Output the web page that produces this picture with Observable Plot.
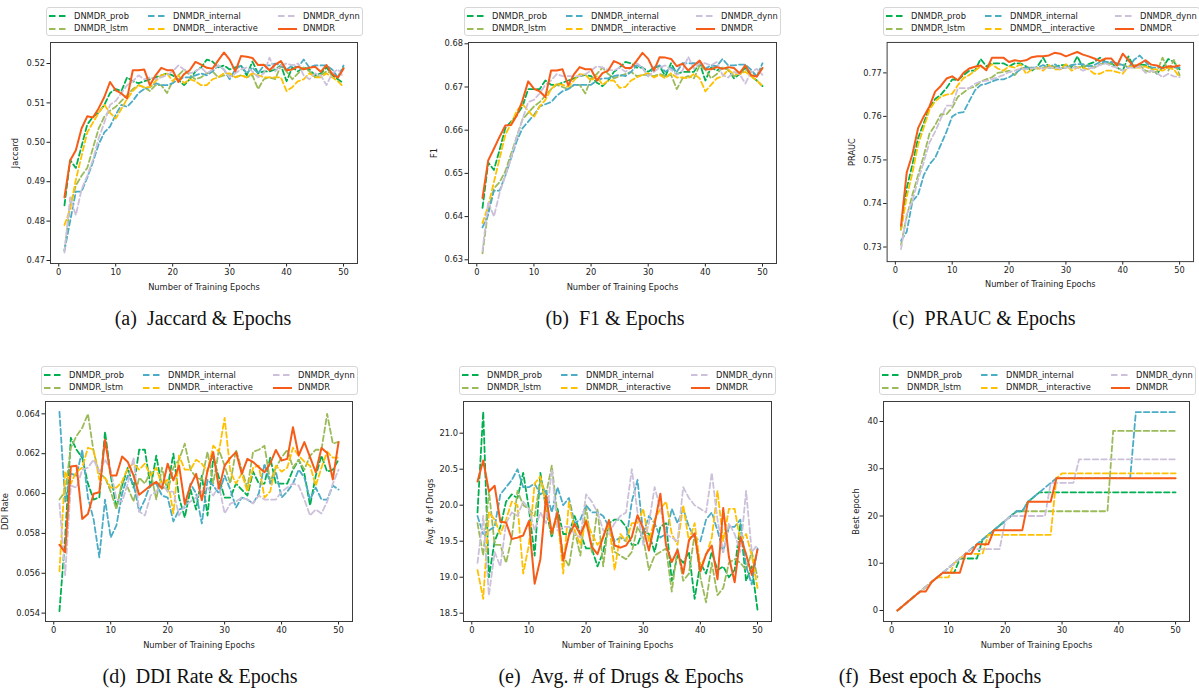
<!DOCTYPE html>
<html><head><meta charset="utf-8">
<script src="https://cdn.jsdelivr.net/npm/d3@7"></script>
<script src="https://cdn.jsdelivr.net/npm/@observablehq/plot@0.6"></script>
<style>
body{margin:0;background:#fff;}
#root{position:relative;width:1199px;height:689px;overflow:hidden;background:#fff;font-family:"DejaVu Sans",sans-serif;}
.leg{position:absolute;border:1px solid #d6d6d6;border-radius:3px;background:#fff;box-sizing:border-box;}
.lh{position:absolute;display:block;}
.lt{position:absolute;font-size:8.3px;line-height:10px;color:#222;white-space:nowrap;}
.cap{position:absolute;font-family:"Liberation Serif","Times New Roman",serif;font-size:20px;color:#111;transform:translate(-50%,-50%);white-space:nowrap;}
.panel{position:absolute;}
</style></head><body><div id="root"></div>
<script>
const epochs = [1,2,3,4,5,6,7,8,9,10,11,12,13,14,15,16,17,18,19,20,21,22,23,24,25,26,27,28,29,30,31,32,33,34,35,36,37,38,39,40,41,42,43,44,45,46,47,48,49,50];
const seriesNames = ["DNMDR_prob","DNMDR_lstm","DNMDR_internal","DNMDR__interactive","DNMDR_dynn","DNMDR"];
const seriesColors = ["#00b050","#9bbb59","#4bacc6","#ffc000","#ccc0da","#f65b17"];

// (a) Jaccard
const jac_prob = [0.484,0.4955,0.4935,0.499,0.5045,0.5065,0.5075,0.5095,0.5125,0.5135,0.513,0.5165,0.5155,0.515,0.5155,0.516,0.5165,0.517,0.5175,0.517,0.5158,0.5145,0.516,0.518,0.519,0.521,0.5205,0.519,0.5195,0.5185,0.519,0.5195,0.517,0.5205,0.5175,0.518,0.518,0.5185,0.5195,0.5155,0.519,0.518,0.519,0.5185,0.517,0.5175,0.519,0.517,0.516,0.515];
const jac_lstm = [0.4725,0.484,0.489,0.4915,0.4935,0.4985,0.5035,0.5065,0.508,0.509,0.5105,0.512,0.5135,0.5145,0.514,0.513,0.5145,0.5145,0.5125,0.5155,0.517,0.5185,0.517,0.516,0.5165,0.5175,0.518,0.5165,0.517,0.517,0.5165,0.517,0.5165,0.517,0.5135,0.516,0.5165,0.516,0.5195,0.518,0.516,0.5175,0.519,0.518,0.5165,0.517,0.518,0.5175,0.5165,0.519];
const jac_internal = [0.4725,0.48,0.4875,0.4875,0.491,0.495,0.4995,0.5025,0.504,0.507,0.5095,0.509,0.5105,0.5125,0.5135,0.514,0.515,0.5145,0.5145,0.515,0.516,0.5165,0.5165,0.517,0.5175,0.517,0.518,0.5195,0.5185,0.516,0.5185,0.5195,0.5175,0.519,0.5175,0.5195,0.5195,0.52,0.5195,0.5185,0.5195,0.519,0.521,0.519,0.5195,0.5195,0.5195,0.5185,0.5165,0.5195];
const jac_interactive = [0.479,0.483,0.4905,0.4965,0.5025,0.505,0.5075,0.5095,0.5075,0.506,0.5085,0.511,0.513,0.5145,0.514,0.514,0.5155,0.517,0.5175,0.5155,0.517,0.515,0.516,0.5155,0.5145,0.5145,0.516,0.5165,0.5175,0.5175,0.5165,0.517,0.5165,0.5175,0.517,0.5165,0.5165,0.5165,0.5165,0.513,0.514,0.5155,0.516,0.5175,0.5165,0.5165,0.5175,0.5165,0.5155,0.514];
const jac_dynn = [0.472,0.486,0.4815,0.488,0.4915,0.4955,0.501,0.505,0.5095,0.5105,0.5125,0.5145,0.5155,0.517,0.516,0.5165,0.516,0.5165,0.517,0.518,0.5195,0.5185,0.5175,0.518,0.519,0.5175,0.5185,0.5195,0.5185,0.5165,0.5175,0.5185,0.519,0.518,0.5165,0.5175,0.5215,0.518,0.5195,0.52,0.5195,0.52,0.517,0.516,0.5175,0.517,0.5145,0.5175,0.5185,0.5165];
const jac_dnmdr = [0.486,0.4954,0.498,0.5035,0.5066,0.5063,0.5086,0.5115,0.5153,0.5132,0.5124,0.5111,0.5183,0.5183,0.5185,0.5145,0.517,0.5189,0.5183,0.5183,0.5153,0.5173,0.5183,0.5204,0.5197,0.5189,0.5187,0.5208,0.5228,0.521,0.518,0.5219,0.5217,0.5214,0.5196,0.5197,0.5183,0.5197,0.5206,0.5183,0.5185,0.5192,0.5185,0.5189,0.5192,0.5179,0.5196,0.5173,0.5164,0.5187];
const jac_ticks = [0.47,0.48,0.49,0.50,0.51,0.52];

// (b) F1
const f1_prob = [0.642,0.6525,0.6508,0.6555,0.6605,0.662,0.6635,0.6655,0.6695,0.6695,0.6695,0.6715,0.6705,0.6705,0.671,0.6715,0.672,0.6725,0.6728,0.6725,0.671,0.6702,0.6715,0.6735,0.6745,0.6758,0.6755,0.6745,0.6745,0.6735,0.6745,0.6748,0.6725,0.6755,0.673,0.6735,0.6735,0.6735,0.6755,0.6715,0.6745,0.6738,0.6745,0.674,0.672,0.673,0.6745,0.6725,0.6715,0.6702];
const f1_lstm = [0.6315,0.6415,0.6465,0.648,0.6505,0.6545,0.6585,0.6625,0.664,0.6655,0.6665,0.668,0.6695,0.6705,0.67,0.6695,0.6705,0.6705,0.6685,0.672,0.673,0.6745,0.673,0.672,0.6725,0.673,0.6735,0.6725,0.6728,0.6728,0.6725,0.673,0.6725,0.6728,0.6695,0.672,0.6725,0.672,0.675,0.674,0.672,0.673,0.6745,0.674,0.6725,0.673,0.674,0.6735,0.6725,0.6745];
const f1_internal = [0.6375,0.6405,0.646,0.646,0.6495,0.6535,0.6575,0.6605,0.662,0.6635,0.6655,0.666,0.6665,0.668,0.669,0.6695,0.6705,0.6705,0.6705,0.6705,0.6715,0.672,0.672,0.6725,0.6728,0.6725,0.6735,0.675,0.6745,0.6725,0.6745,0.675,0.6735,0.6745,0.6735,0.6755,0.6755,0.6755,0.6755,0.6742,0.675,0.6748,0.6765,0.675,0.675,0.6752,0.6752,0.674,0.6725,0.6755];
const f1_interactive = [0.6385,0.6425,0.648,0.6535,0.659,0.6615,0.6645,0.666,0.6645,0.663,0.6655,0.667,0.6695,0.6708,0.6705,0.67,0.6715,0.673,0.6728,0.6715,0.6725,0.6705,0.6715,0.6715,0.6698,0.67,0.6715,0.6722,0.6728,0.6732,0.6722,0.6728,0.672,0.6732,0.6722,0.6722,0.672,0.673,0.672,0.669,0.6705,0.672,0.6725,0.674,0.673,0.673,0.6735,0.6725,0.6715,0.6702];
const f1_dynn = [0.632,0.6435,0.64,0.6455,0.6495,0.6535,0.6585,0.6625,0.6665,0.667,0.6685,0.6705,0.6715,0.673,0.6725,0.6725,0.6725,0.6725,0.673,0.6738,0.6748,0.6745,0.674,0.6738,0.6745,0.6735,0.6745,0.6755,0.6745,0.6725,0.6735,0.6745,0.675,0.674,0.6728,0.6738,0.677,0.6742,0.6755,0.6755,0.675,0.6758,0.6728,0.6722,0.6735,0.673,0.6708,0.6735,0.6742,0.6728];
const f1_dnmdr = [0.6443,0.653,0.6557,0.6585,0.6611,0.6612,0.6634,0.6669,0.6713,0.6696,0.669,0.6677,0.6738,0.6738,0.6741,0.6704,0.6729,0.6746,0.6741,0.6741,0.6715,0.6732,0.6738,0.676,0.6754,0.6744,0.6744,0.6761,0.6779,0.6765,0.6738,0.6769,0.6768,0.6765,0.6748,0.6754,0.6738,0.675,0.6761,0.6741,0.6741,0.6746,0.6742,0.6746,0.6744,0.6732,0.675,0.6727,0.6724,0.6744];
const f1_ticks = [0.63,0.64,0.65,0.66,0.67,0.68];

// (c) PRAUC
const pr_prob = [0.734,0.7435,0.749,0.755,0.7585,0.762,0.764,0.765,0.7665,0.7685,0.7683,0.7695,0.7705,0.7705,0.7732,0.7715,0.7722,0.7722,0.7722,0.7715,0.7722,0.7722,0.7715,0.7705,0.7715,0.7735,0.7712,0.7712,0.7718,0.7718,0.7712,0.7738,0.7712,0.772,0.7725,0.7735,0.7725,0.7722,0.7712,0.7705,0.7738,0.7712,0.772,0.7718,0.7712,0.7698,0.7712,0.7732,0.7725,0.7708];
const pr_lstm = [0.7305,0.737,0.742,0.7465,0.751,0.756,0.758,0.7605,0.7605,0.762,0.7645,0.7655,0.7665,0.7668,0.768,0.7685,0.769,0.77,0.7702,0.7705,0.7695,0.771,0.7712,0.7712,0.771,0.7712,0.7715,0.7715,0.771,0.7712,0.7718,0.7712,0.7715,0.7718,0.7712,0.772,0.7722,0.772,0.7718,0.772,0.7712,0.7718,0.7718,0.7705,0.7702,0.7702,0.7735,0.7705,0.773,0.7695];
const pr_internal = [0.7315,0.7335,0.7405,0.742,0.7465,0.749,0.7505,0.7535,0.7565,0.76,0.7608,0.761,0.7635,0.766,0.7672,0.7675,0.768,0.7685,0.7685,0.769,0.7698,0.7708,0.7712,0.7712,0.7712,0.7718,0.7712,0.772,0.7712,0.7712,0.7718,0.772,0.772,0.7715,0.7718,0.7725,0.7725,0.7725,0.7722,0.7718,0.7712,0.773,0.774,0.7725,0.7712,0.7712,0.7712,0.7712,0.7712,0.7712];
const pr_interactive = [0.734,0.7415,0.747,0.7535,0.7575,0.7615,0.7635,0.7645,0.765,0.7652,0.7672,0.7688,0.7695,0.7705,0.7715,0.7708,0.772,0.771,0.7705,0.7715,0.7712,0.772,0.7698,0.7708,0.7712,0.7705,0.7718,0.7708,0.7708,0.772,0.7705,0.7712,0.7712,0.7708,0.7698,0.7698,0.7705,0.7705,0.7702,0.7698,0.7715,0.7712,0.7712,0.7715,0.7708,0.7708,0.7705,0.7712,0.7708,0.769];
const pr_dynn = [0.7295,0.7375,0.7405,0.7455,0.7495,0.754,0.7565,0.7595,0.7625,0.7625,0.7665,0.7665,0.7665,0.7675,0.768,0.7682,0.7685,0.769,0.7695,0.7702,0.7705,0.771,0.7708,0.771,0.7712,0.771,0.7712,0.7712,0.771,0.7712,0.7712,0.7712,0.7705,0.771,0.7712,0.7718,0.7722,0.7715,0.7712,0.7705,0.7712,0.7712,0.7715,0.77,0.7705,0.77,0.769,0.7698,0.7692,0.769];
const pr_dnmdr = [0.7349,0.7471,0.7513,0.7573,0.76,0.7623,0.7657,0.767,0.7687,0.7692,0.7683,0.77,0.771,0.7714,0.7717,0.7706,0.7735,0.7735,0.7735,0.7725,0.7729,0.7727,0.7729,0.7736,0.7738,0.7738,0.774,0.7746,0.7744,0.7738,0.7743,0.7748,0.7742,0.7738,0.7733,0.7727,0.7733,0.7733,0.7717,0.7744,0.7729,0.7714,0.7721,0.7729,0.7719,0.7717,0.7711,0.7715,0.7714,0.7717];
const pr_ticks = [0.73,0.74,0.75,0.76,0.77];

// (d) DDI Rate
const ddi_prob = [0.0541,0.0578,0.0628,0.0622,0.0618,0.0605,0.0597,0.0598,0.0631,0.0609,0.0593,0.0604,0.0613,0.0603,0.0622,0.0622,0.0603,0.0619,0.0603,0.0603,0.062,0.0598,0.0588,0.0602,0.0592,0.0609,0.0589,0.0618,0.0608,0.0598,0.0598,0.0605,0.0602,0.0599,0.0611,0.0605,0.0605,0.0618,0.0605,0.0605,0.0605,0.0612,0.0617,0.061,0.0594,0.0609,0.0619,0.0611,0.0612,0.0617];
const ddi_lstm = [0.0597,0.0601,0.0623,0.0629,0.0633,0.064,0.0621,0.061,0.0608,0.0601,0.0592,0.0606,0.0603,0.0596,0.0608,0.0605,0.0611,0.0597,0.0613,0.0601,0.0613,0.0617,0.0625,0.0612,0.0608,0.0607,0.0621,0.0605,0.0622,0.0614,0.0605,0.0622,0.0612,0.0603,0.0621,0.0622,0.0624,0.0606,0.0613,0.0618,0.0622,0.0613,0.0617,0.0612,0.0619,0.0622,0.0622,0.064,0.0625,0.0626];
const ddi_internal = [0.0641,0.0596,0.061,0.0609,0.0622,0.0598,0.0587,0.0568,0.0597,0.0578,0.0584,0.06,0.0609,0.0605,0.0591,0.0597,0.0605,0.0605,0.0599,0.0598,0.0586,0.0592,0.0593,0.0605,0.06,0.0585,0.0607,0.0604,0.06,0.0609,0.0602,0.0593,0.0598,0.0597,0.0595,0.06,0.0615,0.0605,0.0611,0.0598,0.0601,0.0605,0.0612,0.0608,0.0597,0.0603,0.0597,0.0597,0.0604,0.0602];
const ddi_interactive = [0.0561,0.0611,0.0605,0.0611,0.0613,0.0623,0.0622,0.0607,0.0608,0.0603,0.0603,0.0606,0.0613,0.0615,0.0612,0.0615,0.0609,0.0613,0.0604,0.0607,0.059,0.0619,0.0612,0.0612,0.0617,0.0615,0.0611,0.0624,0.0621,0.0638,0.0611,0.0605,0.061,0.0601,0.0613,0.0614,0.0598,0.0601,0.0614,0.0611,0.0613,0.0623,0.0619,0.0616,0.0614,0.0604,0.0613,0.0621,0.0618,0.0618];
const ddi_dynn = [0.0595,0.0559,0.0604,0.0603,0.0612,0.0613,0.0617,0.0611,0.0617,0.0612,0.0597,0.0596,0.0605,0.0618,0.0591,0.0589,0.0599,0.0601,0.0605,0.0601,0.0601,0.0589,0.0594,0.0596,0.0598,0.0601,0.0603,0.0599,0.0604,0.059,0.0595,0.0596,0.0598,0.0597,0.0595,0.0599,0.0597,0.0597,0.0597,0.0601,0.0603,0.0605,0.0604,0.0597,0.0589,0.0592,0.059,0.0596,0.0605,0.0612];
const ddi_dnmdr = [0.05743,0.05706,0.06136,0.0614,0.05873,0.05898,0.05999,0.06007,0.0627,0.06091,0.06091,0.06186,0.06158,0.06091,0.05994,0.06017,0.0604,0.06059,0.06025,0.0615,0.06066,0.0614,0.05948,0.0604,0.06099,0.05966,0.06116,0.06208,0.06025,0.0614,0.06179,0.06208,0.06099,0.06174,0.06158,0.06132,0.06107,0.0615,0.06219,0.06166,0.06174,0.06333,0.06191,0.06258,0.06183,0.06107,0.06229,0.06203,0.06071,0.06258];
const ddi_ticks = [0.054,0.056,0.058,0.060,0.062,0.064];

// (e) Avg. # of Drugs
const avg_prob = [19.9,21.3,19.0,19.5,19.7,20.05,20.15,20.1,20.45,19.95,19.3,20.45,19.95,19.55,19.95,19.6,19.6,19.85,19.6,19.4,19.4,19.15,19.35,19.75,19.8,19.8,19.7,19.45,19.45,19.65,19.6,19.35,19.7,19.75,18.95,19.3,19.2,19.35,18.7,19.2,19.05,19.35,19.1,19.15,19.0,19.1,19.75,18.95,19.15,18.55];
const avg_lstm = [19.75,19.3,20.2,19.45,19.45,19.2,19.55,20.2,20.0,19.95,19.85,20.35,20.15,20.55,19.85,19.3,19.15,19.65,19.3,20.0,19.35,19.95,19.15,19.8,19.35,19.3,19.25,19.35,19.7,19.55,19.1,19.3,19.35,19.4,18.8,19.4,18.95,19.05,19.6,19.0,18.65,19.2,18.75,18.85,19.2,19.25,19.2,19.1,19.35,19.0];
const avg_internal = [19.85,19.6,19.65,19.7,20.15,20.25,20.35,20.5,20.25,20.25,20.3,20.15,20.2,19.9,20.25,20.0,20.1,19.75,19.8,20.0,19.9,19.9,19.85,19.7,19.5,19.55,19.5,20.05,20.35,19.6,19.85,19.75,19.55,19.6,19.95,19.75,19.95,19.7,19.55,19.5,19.8,19.9,19.65,19.35,19.7,19.7,19.8,19.15,18.9,19.4];
const avg_interactive = [19.1,18.7,19.9,19.8,19.6,19.8,20.05,20.0,19.05,19.45,20.3,20.4,20.0,19.6,19.85,19.05,20.05,19.65,19.45,19.8,19.6,19.45,19.55,19.75,19.1,19.6,19.5,19.75,19.75,19.95,19.5,19.8,19.95,20.05,19.6,19.45,20.0,19.5,19.75,19.15,19.3,19.55,20.2,19.5,19.95,19.95,19.5,19.6,19.3,18.85];
const avg_dynn = [19.2,19.85,18.75,19.35,19.15,19.75,19.9,19.85,20.05,19.95,19.65,19.9,19.75,20.5,19.65,19.7,19.7,19.6,19.55,20.15,20.05,19.9,19.65,19.6,19.75,19.85,19.9,20.5,19.9,19.45,19.75,20.25,19.95,19.6,19.55,19.5,20.25,20.1,20.0,19.95,19.9,20.45,19.8,19.35,19.75,19.6,19.35,20.2,19.35,19.45];
const avg_dnmdr = [20.33,20.62,20.19,20.27,19.77,19.76,19.53,19.55,19.58,19.78,18.91,19.25,20.13,19.61,19.9,19.23,19.58,19.74,19.59,19.78,19.42,19.32,19.56,19.79,19.44,19.41,19.44,19.56,19.86,19.68,19.37,19.74,20.16,19.44,19.21,19.38,19.05,19.51,19.61,19.08,19.32,19.44,18.97,19.96,19.28,18.93,19.56,19.32,19.03,19.38];
const avg_ticks = [18.5,19.0,19.5,20.0,20.5,21.0];

// (f) Best epoch
const best_prob = [0,1,2,3,4,5,6,7,8,8,8,11,11,11,11,15,16,17,18,19,20,21,21,23,24,25,25,25,25,25,25,25,25,25,25,25,25,25,25,25,25,25,25,25,25,25,25,25,25,25];
const best_lstm = [0,1,2,3,4,5,6,7,8,9,10,11,12,13,14,15,16,17,18,19,20,21,21,21,21,21,21,21,21,21,21,21,21,21,21,21,21,21,38,38,38,38,38,38,38,38,38,38,38,38];
const best_internal = [0,1,2,3,4,5,6,7,8,9,10,11,12,13,14,15,16,17,18,19,20,21,21,23,24,25,26,27,28,28,28,28,28,28,28,28,28,28,28,28,28,28,42,42,42,42,42,42,42,42];
const best_interactive = [0,1,2,3,4,5,6,7,7,7,10,11,12,12,12,12,16,16,16,16,16,16,16,16,16,16,16,16,28,29,29,29,29,29,29,29,29,29,29,29,29,29,29,29,29,29,29,29,29,29];
const best_dynn = [0,1,2,3,4,5,6,7,8,9,10,11,12,13,13,13,13,13,13,19,20,20,20,20,20,20,20,27,27,27,27,27,32,32,32,32,32,32,32,32,32,32,32,32,32,32,32,32,32,32];
const best_dnmdr = [0,1,2,3,4,4,6,7,8,8,8,8,12,12,14,14,14,17,17,17,17,17,17,23,23,23,23,23,28,28,28,28,28,28,28,28,28,28,28,28,28,28,28,28,28,28,28,28,28,28];
const best_ticks = [0,10,20,30,40];

const xTicks = [0,10,20,30,40,50];

const panels = [
  {label:"Jaccard", caption:"(a)\u2002Jaccard & Epochs", series:[jac_prob,jac_lstm,jac_internal,jac_interactive,jac_dynn,jac_dnmdr], ticks:jac_ticks, fmt:".2f", domain:[0.46924,0.52533], frame:[50,357,42,263], yl:38, cap:[203,318]},
  {label:"F1", caption:"(b)\u2002F1 & Epochs", series:[f1_prob,f1_lstm,f1_internal,f1_interactive,f1_dynn,f1_dnmdr], ticks:f1_ticks, fmt:".2f", domain:[0.62914,0.6803], frame:[468,776,42,263], yl:37, cap:[615,318]},
  {label:"PRAUC", caption:"(c)\u2002PRAUC & Epochs", series:[pr_prob,pr_lstm,pr_internal,pr_interactive,pr_dynn,pr_dnmdr], ticks:pr_ticks, fmt:".2f", domain:[0.72665,0.77699], frame:[887,1196,42,263], yl:38, cap:[984,318]},
  {label:"DDI Rate", caption:"(d)\u2002DDI Rate & Epochs", series:[ddi_prob,ddi_lstm,ddi_internal,ddi_interactive,ddi_dynn,ddi_dnmdr], ticks:ddi_ticks, fmt:".3f", domain:[0.05358,0.06462], frame:[45,352,401,621], yl:43, cap:[200,676]},
  {label:"Avg. # of Drugs", caption:"(e)\u2002Avg. # of Drugs & Epochs", series:[avg_prob,avg_lstm,avg_internal,avg_interactive,avg_dynn,avg_dnmdr], ticks:avg_ticks, fmt:".1f", domain:[18.385,21.44], frame:[463,771,401,621], yl:36, cap:[621,676]},
  {label:"Best epoch", caption:"(f)\u2002Best epoch & Epochs", series:[best_prob,best_lstm,best_internal,best_interactive,best_dynn,best_dnmdr], ticks:best_ticks, fmt:"d", domain:[-2.33,44.23], frame:[883,1189,401,621], yl:30, cap:[940,676]}
];

const root = document.getElementById("root");
const ns = "http://www.w3.org/2000/svg";

function legendHandle(i) {
  const s = document.createElementNS(ns, "svg");
  s.setAttribute("width", "19"); s.setAttribute("height", "6");
  s.setAttribute("class", "lh");
  const l = document.createElementNS(ns, "line");
  l.setAttribute("x1", "0"); l.setAttribute("x2", "19"); l.setAttribute("y1", "3"); l.setAttribute("y2", "3");
  l.setAttribute("stroke", seriesColors[i]); l.setAttribute("stroke-width", "2");
  if (i < 5) l.setAttribute("stroke-dasharray", "6.5,3.5");
  s.appendChild(l);
  return s;
}

panels.forEach(p => {
  const [L, R, T, B] = p.frame;
  const ml = 48, mr = 6, mt = 6, mb = 36;
  const marks = [];
  p.series.forEach((vals, i) => {
    const rows = epochs.map((e, j) => ({epoch: e, value: vals[j], series: seriesNames[i]}));
    marks.push(Plot.line(rows, {x: "epoch", y: "value", stroke: seriesColors[i], strokeWidth: i === 5 ? 2 : 1.8, strokeDasharray: i < 5 ? "5.5,3" : null, strokeLinejoin: "round"}));
  });
  marks.push(Plot.frame({stroke: "#3c3c3c", strokeWidth: 1}));
  const svg = Plot.plot({
    width: (R - L) + ml + mr,
    height: (B - T) + mt + mb,
    marginLeft: ml, marginRight: mr, marginTop: mt, marginBottom: mb,
    style: {fontFamily: "DejaVu Sans, sans-serif", fontSize: "8.3px", color: "#222", background: "transparent", overflow: "visible"},
    x: {domain: [-1.45, 52.45], ticks: xTicks, tickSize: 3.5, tickPadding: 2, tickFormat: d3.format("d"), label: "Number of Training Epochs", labelAnchor: "center", labelArrow: "none", labelOffset: 26},
    y: {domain: p.domain, ticks: p.ticks, tickSize: 3.5, tickPadding: 2, tickFormat: d3.format(p.fmt), label: p.label, labelAnchor: "center", labelArrow: "none", labelOffset: p.yl},
    marks
  });
  const wrap = document.createElement("div");
  wrap.className = "panel";
  wrap.style.left = (L - ml) + "px";
  wrap.style.top = (T - mt) + "px";
  wrap.appendChild(svg);
  root.appendChild(wrap);

  // legend
  const leg = document.createElement("div");
  leg.className = "leg";
  leg.style.left = (L - 4) + "px";
  leg.style.top = (T - 35) + "px";
  leg.style.width = "317px";
  leg.style.height = "29px";
  const cols = [2, 101, 231];
  const rowsY = [8, 20.5];
  seriesNames.forEach((name, i) => {
    const c = Math.floor(i / 2), r = i % 2;
    const h = legendHandle(i);
    h.style.left = cols[c] + "px";
    h.style.top = (rowsY[r] - 3) + "px";
    leg.appendChild(h);
    const t = document.createElement("span");
    t.className = "lt";
    t.textContent = name;
    t.style.left = (cols[c] + 25) + "px";
    t.style.top = (rowsY[r] - 5.5) + "px";
    leg.appendChild(t);
  });
  root.appendChild(leg);

  const cap = document.createElement("div");
  cap.className = "cap";
  cap.style.left = p.cap[0] + "px";
  cap.style.top = p.cap[1] + "px";
  cap.textContent = p.caption;
  root.appendChild(cap);
});
</script></body></html>
